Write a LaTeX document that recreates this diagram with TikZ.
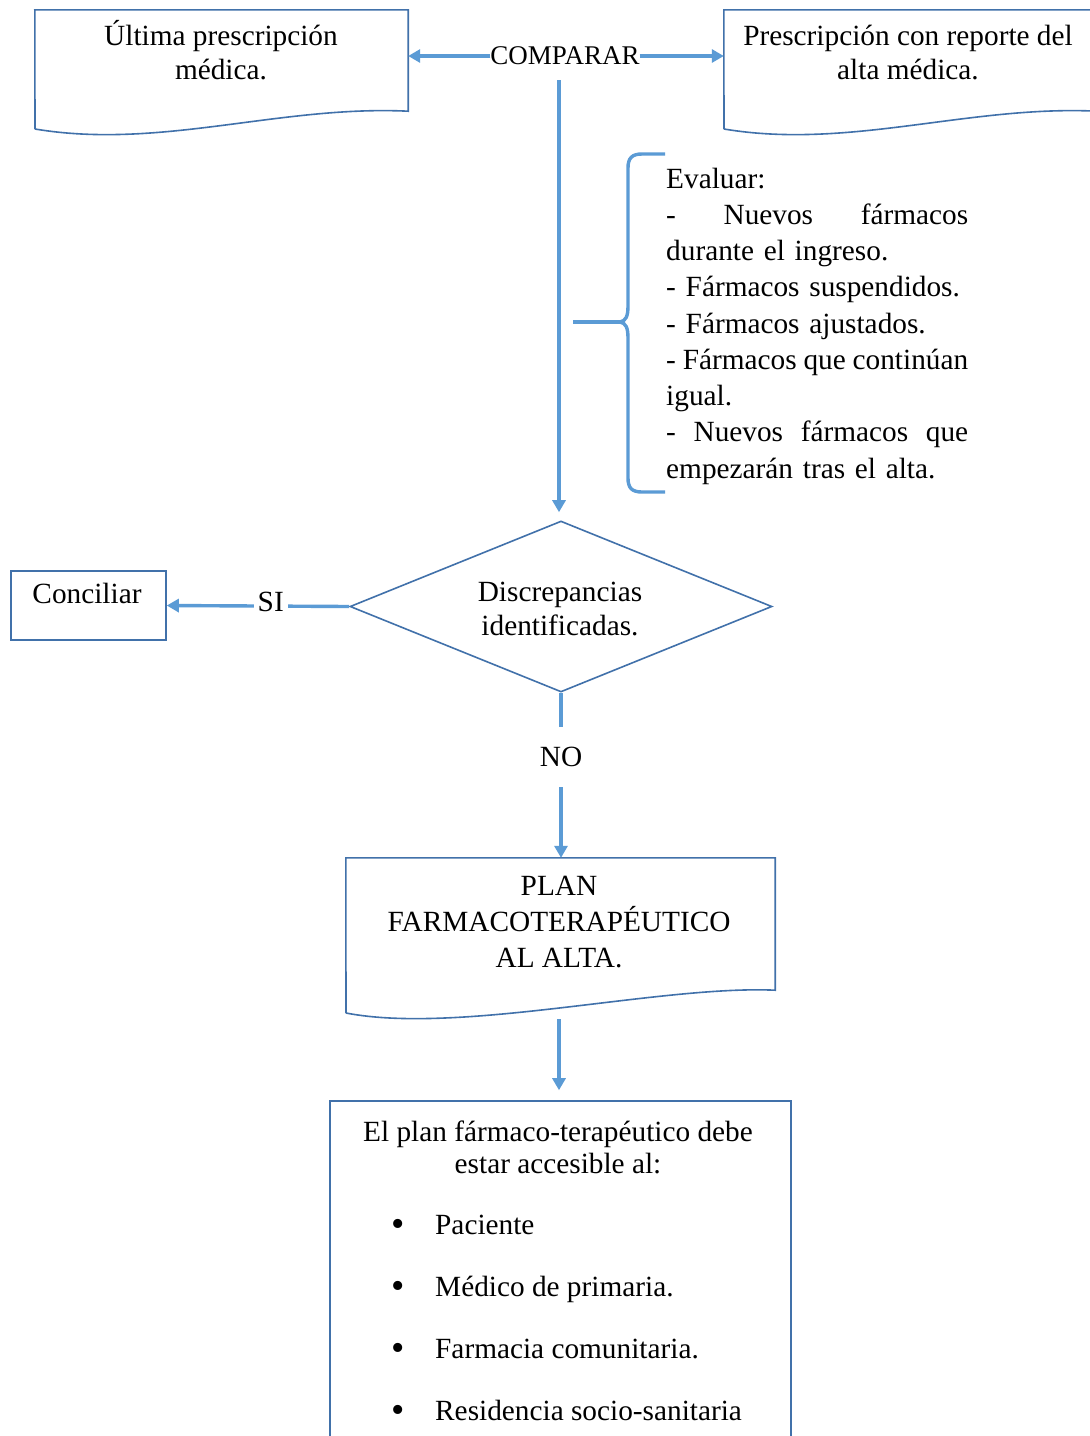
\documentclass[tikz,border=0pt]{standalone}
\usepackage{fontspec}
\setmainfont{Liberation Serif}
\usetikzlibrary{arrows.meta,shapes.geometric,calc}
\definecolor{arr}{RGB}{91,155,213}
\definecolor{bord}{RGB}{65,113,170}
\newcommand{\jline}[1]{\leavevmode\hbox to 302pt{#1}}
\newcommand{\bul}{\leavevmode\hbox to 45pt{\hspace{1pt}{\fontsize{38}{38}\selectfont\raisebox{-2pt}{•}}\hfill}}
\begin{document}
\begin{tikzpicture}[x=1pt,y=-1pt,
  txt/.style={inner sep=0pt, font=\fontsize{29.3}{33.7}\selectfont, align=center},
  conn/.style={draw=arr, line width=3.4pt, -{Triangle[length=12pt,width=13pt]}},
  border/.style={draw=bord, line width=1.6pt},
  frame/.style={inner sep=0pt, draw=none},
  lbl/.style={fill=white, inner sep=0pt, font=\fontsize{29.3}{33.7}\selectfont},
]
\clip (0,0) rectangle (1090,1436);
\fill[white] (0,0) rectangle (1090,1436);

% --- box 1 (document shape)
\node[frame, minimum width=373pt, minimum height=101pt] (box1) at (221.5,60.5) {};
\draw[border] (35,129) -- (box1.north west) -- (box1.north east) -- (box1.south east)
  .. controls (280,105) and (160,150) .. (35,129);
\node[txt, anchor=base] (t1) at (221,79) {Última prescripción\\médica.};

% --- box 2 (document shape)
\node[frame, minimum width=373pt, minimum height=101pt] (box2) at (910.5,60.5) {};
\draw[border] (724,129) -- (box2.north west) -- (box2.north east) -- (box2.south east)
  .. controls (969,105) and (849,150) .. (724,129);
\node[txt, anchor=base] (t2) at (908,79) {Prescripción con reporte del\\alta médica.};

% --- COMPARAR
\node[inner sep=0pt, font=\fontsize{27}{30}\selectfont] (comp) at (565,56) {COMPARAR};
\draw[conn] (comp.west) -- (comp.west -| box1.east);
\draw[conn] (comp.east) -- (comp.east -| box2.west);

% --- diamond
\node[shape=diamond, draw=bord, line width=1.6pt, inner sep=0pt,
      minimum width=422pt, minimum height=171pt] (diam) at (561,606.5) {};
\node[txt, anchor=base] (dtxt) at (560,635) {Discrepancias\\identificadas.};

\coordinate (vstart) at (559,80);
\draw[conn, shorten >=8pt] (vstart) -- (vstart |- diam.north);

% --- brace
\draw[draw=arr, line width=3.4pt, line join=round]
  (665,154) -- (642,154) .. controls (632,154) and (628,158) .. (628,168)
  -- (628,306) .. controls (628,316) and (626,321) .. (620,322)
  .. controls (626,323) and (628,328) .. (628,338)
  -- (628,478) .. controls (628,488) and (632,492) .. (642,492) -- (665,492);
\draw[draw=arr, line width=3.4pt] (573,322) -- (620,322);

% --- evaluar text
\node[inner sep=0pt, anchor=base west, text width=302pt, align=left,
      font=\fontsize{29.3}{36.25}\selectfont] (eval) at (666,188)
  {Evaluar:\\
   \jline{-\hfill Nuevos\hfill fármacos}\\
   durante el ingreso.\\
   - Fármacos suspendidos.\\
   - Fármacos ajustados.\\
   \jline{-\hfill Fármacos\hfill que\hfill continúan}\\
   igual.\\
   \jline{-\hfill Nuevos\hfill fármacos\hfill que}\\
   empezarán tras el alta.};

% --- conciliar
\node[draw=bord, line width=1.6pt, inner sep=0pt, minimum width=155pt,
      minimum height=69pt] (conc) at (88.5,605.5) {};
\node[txt, anchor=base] (ctxt) at (87,603) {Conciliar};
\draw[conn] (diam.west) -- node[lbl, pos=0.43, inner xsep=4pt, yshift=4pt] (si) {SI} (conc.east);

% --- plan box
\node[frame, minimum width=429pt, minimum height=132pt] (plan) at (560.5,924) {};
\draw[border] (346,1013) -- (plan.north west) -- (plan.north east) -- (plan.south east)
  .. controls (660,985) and (460,1035) .. (346,1013);
\node[inner sep=0pt, anchor=base, align=center, font=\fontsize{29.3}{36}\selectfont]
  (ptxt) at (559,967) {PLAN\\FARMACOTERAPÉUTICO\\AL ALTA.};
\draw[conn] (diam.south) -- node[lbl, pos=0.39, inner xsep=2pt, inner ysep=20pt] (no) {NO} (diam.south |- plan.north);

% --- final box
\node[draw=bord, line width=1.6pt, inner sep=0pt, minimum width=461pt,
      minimum height=360pt] (fin) at (560.5,1281) {};
\coordinate (pbot) at (559,1019);
\draw[conn, shorten >=10pt] (pbot) -- (pbot |- fin.north);
\node[inner sep=0pt, anchor=base, align=center, font=\fontsize{29.3}{32}\selectfont]
  (ftxt) at (558,1173) {El plan fármaco-terapéutico debe\\estar accesible al:};
\node[inner sep=0pt, anchor=base west, align=left, font=\fontsize{29.3}{61.7}\selectfont]
  (flist) at (390,1420)
  {\bul Paciente\\
   \bul Médico de primaria.\\
   \bul Farmacia comunitaria.\\
   \bul Residencia socio-sanitaria};
\end{tikzpicture}
\end{document}
